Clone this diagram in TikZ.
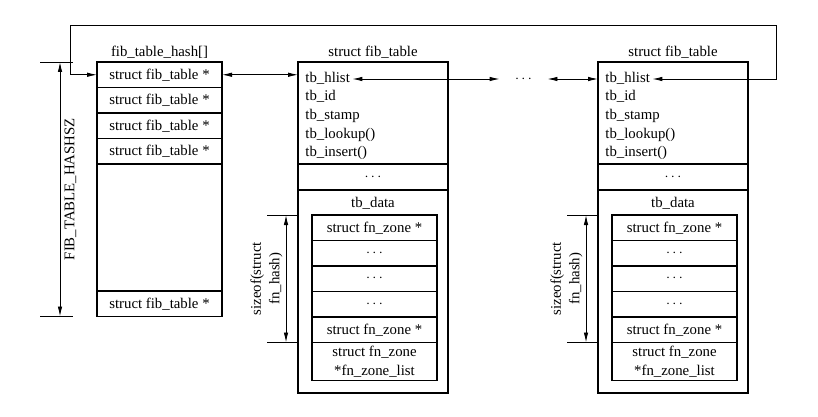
\documentclass[tikz,border=0pt]{standalone}
\usepackage{fontspec}
\setmainfont{Liberation Serif}
\usetikzlibrary{positioning, arrows.meta}
\newcommand{\figfont}{\fontsize{14.8pt}{18.5pt}\selectfont}

\begin{document}
\begin{tikzpicture}[x=1pt, y=-1pt, line width=0.9pt,
    >={Latex[length=10pt, width=4.5pt]},
    every node/.style={font=\figfont},
    cell/.style={draw, line width=1.2pt, inner sep=0pt, outer sep=0pt,
        minimum width=125pt, minimum height=25.5pt, anchor=north west},
    frame/.style={draw, line width=1.2pt, inner sep=0pt, outer sep=0pt,
        minimum width=150pt, anchor=north west},
    field/.style={anchor=west, inner sep=2pt, text height=10pt, text depth=3pt}]
    \useasboundingbox (0,0) rectangle (818,417);

    % hash array
    \foreach \i in {1,...,4}
        \node[cell] (h\i) at (97, {62+25.5*(\i-1)}) {struct fib\_table *};
    \node[cell, minimum height=127pt, below=0pt of h4] (hgap) {};
    \node[cell, below=0pt of hgap] (hlast) {struct fib\_table *};
    \node[above=0pt of h1] (htitle) {fib\_table\_hash[]};

    \draw ([xshift=-57pt]h1.north west) -- ++(33,0);
    \draw ([xshift=-57pt]hlast.south west) -- ++(33,0);
    \draw[<->] ([xshift=-37pt]h1.north west) --
        node[midway, rotate=90, anchor=north, inner sep=4pt] {FIB\_TABLE\_HASHSZ}
        ([xshift=-37pt]hlast.south west);

    % the two fib_table structs
    \foreach \n/\ox in {1/298, 2/598} {
        \node[frame, minimum height=331pt] (tab\n) at (\ox,62) {};
        \node[above=0pt of tab\n] (tab\n-title) {struct fib\_table};
        \foreach \f/\txt [count=\i] in {hlist/tb\_hlist, id/tb\_id, stamp/tb\_stamp,
                lookup/tb\_lookup(), insert/tb\_insert()}
            \node[field] (tab\n-\f) at (\ox+5, {79+18.5*(\i-1)}) {\txt};
        \node[frame, minimum height=26pt] (tab\n-more) at (\ox,164) {$\cdots$};
        \node (tab\n-data) at (\ox+75,203) {tb\_data};

        \node[cell] (tab\n-z1) at (\ox+14,215) {struct fn\_zone *};
        \node[cell, below=0pt of tab\n-z1] (tab\n-z2) {$\cdots$};
        \node[cell, below=0pt of tab\n-z2] (tab\n-z3) {$\cdots$};
        \node[cell, below=0pt of tab\n-z3] (tab\n-z4) {$\cdots$};
        \node[cell, below=0pt of tab\n-z4] (tab\n-z5) {struct fn\_zone *};
        \node[cell, below=0pt of tab\n-z5, minimum height=38pt, align=center]
            (tab\n-z6) {struct fn\_zone\\*fn\_zone\_list};

        \draw (tab\n-z1.north -| tab\n.west) -- ++(-31,0);
        \draw (tab\n-z5.south -| tab\n.west) -- ++(-31,0);
        \draw[<->] ([xshift=-12pt]tab\n-z1.north -| tab\n.west) --
            node[midway, rotate=90, anchor=south, align=center, inner sep=3pt]
            {sizeof(struct\\fn\_hash)}
            ([xshift=-12pt]tab\n-z5.south -| tab\n.west);
    }

    % links
    \node[minimum width=47pt, inner sep=0pt] (gap) at (523.5,79) {$\cdots$};
    \draw[<->] (h1.east) -- (h1.east -| tab1.west);
    \draw[<->] (tab1-hlist.east) -- (gap.west);
    \draw[<->] (gap.east) -- (gap.east -| tab2.west);

    \coordinate (wireL) at (70,25);
    \coordinate (wireR) at (776,25);
    \draw[<->] (h1.west) -| (wireL) -- (wireR) |- (tab2-hlist.east);
\end{tikzpicture}
\end{document}
